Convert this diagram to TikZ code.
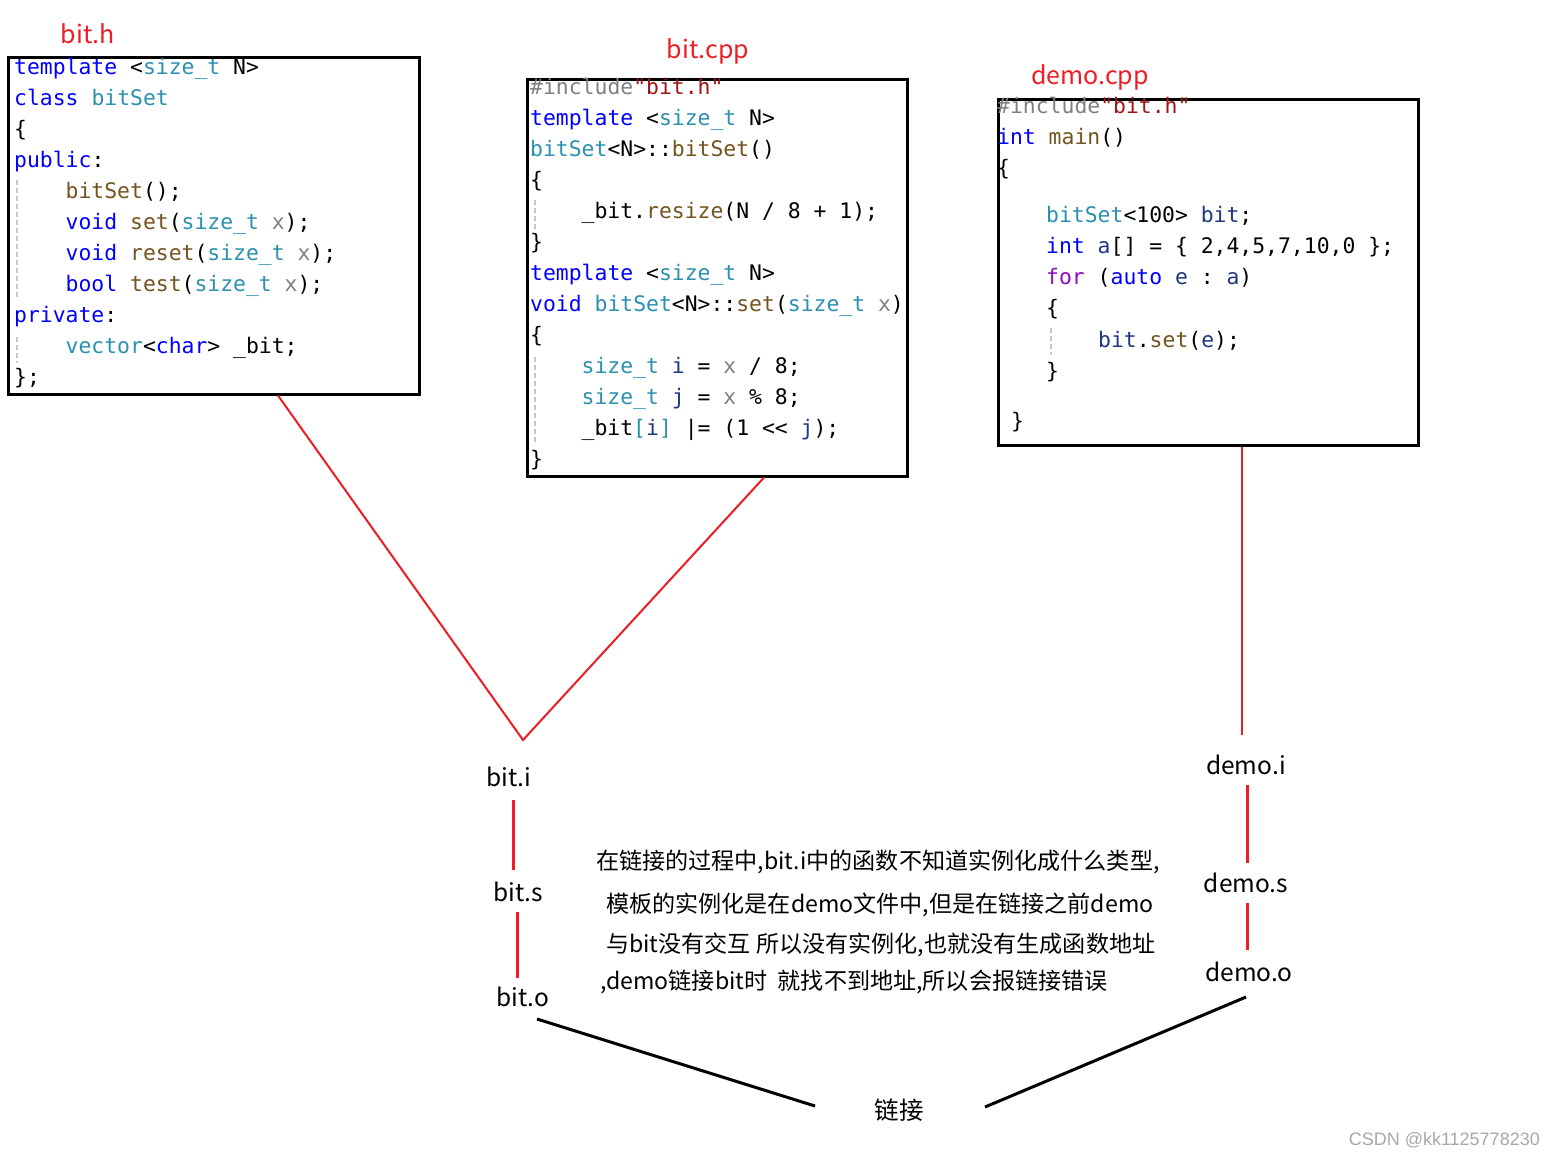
\documentclass[tikz,border=0pt]{standalone}
\usepackage{fontspec}
\setmainfont{Noto Sans CJK SC}
\setmonofont{DejaVu Sans Mono}
\newfontfamily\wmfont{Liberation Sans}
\usetikzlibrary{calc}
\definecolor{ckwcol}{HTML}{0000FF}
\definecolor{ctycol}{HTML}{2B91AF}
\definecolor{cfncol}{HTML}{74531F}
\definecolor{cpmcol}{HTML}{808080}
\definecolor{cstcol}{HTML}{A31515}
\definecolor{clvcol}{HTML}{1F377F}
\definecolor{cctlcol}{HTML}{8F08C4}
\definecolor{lred}{HTML}{EE1C25}
\definecolor{wmgray}{HTML}{A8A8A8}
\newcommand\ckw[1]{\textcolor{ckwcol}{#1}}
\newcommand\cty[1]{\textcolor{ctycol}{#1}}
\newcommand\cfn[1]{\textcolor{cfncol}{#1}}
\newcommand\cpm[1]{\textcolor{cpmcol}{#1}}
\newcommand\cst[1]{\textcolor{cstcol}{#1}}
\newcommand\clv[1]{\textcolor{clvcol}{#1}}
\newcommand\cctl[1]{\textcolor{cctlcol}{#1}}
\newcommand\codef{\ttfamily\fontsize{21.4}{21.4}\selectfont}
\tikzset{
  codebox/.style={draw=black, line width=3pt, inner sep=0pt},
  codeln/.style={anchor=base west, inner sep=0pt, font=\codef},
  redlab/.style={text=lred, font=\fontsize{25}{25}\selectfont, inner sep=0pt},
  lab/.style={text=black, font=\fontsize{24.5}{24.5}\selectfont, inner sep=0pt},
  para/.style={anchor=base west, inner sep=0pt, font=\fontsize{23.1}{23.1}\selectfont},
  redline/.style={draw=lred, line width=2pt},
  redthick/.style={draw=lred, line width=3pt},
  blkline/.style={draw=black, line width=3pt},
  guide/.style={draw=black!22, line width=1.2pt, dash pattern=on 5pt off 3pt},
}
\begin{document}
\begin{tikzpicture}[x=1pt, y=-1pt]
\useasboundingbox[fill=white] (0,0) rectangle (1555,1157);

% ---------- bit.h ----------
\node[redlab] (lbith) at (88,34) {bit.h};
\node[codebox, minimum width=411pt, minimum height=337pt] (bith) at (213.5,225.5) {};
\draw[guide] (17,180) -- (17,297);
\draw[guide] (17,337) -- (17,363);
\node[codeln] (h1) at (14,74) {\ckw{template} <\cty{size\_t} N>};
\node[codeln] (h2) at (14,105) {\ckw{class} \cty{bitSet}};
\node[codeln] (h3) at (14,136) {\{};
\node[codeln] (h4) at (14,167) {\ckw{public}:};
\node[codeln] (h5) at (65.5,198) {\cfn{bitSet}();};
\node[codeln] (h6) at (65.5,229) {\ckw{void} \cfn{set}(\cty{size\_t} \cpm{x});};
\node[codeln] (h7) at (65.5,260) {\ckw{void} \cfn{reset}(\cty{size\_t} \cpm{x});};
\node[codeln] (h8) at (65.5,291) {\ckw{bool} \cfn{test}(\cty{size\_t} \cpm{x});};
\node[codeln] (h9) at (14,322) {\ckw{private}:};
\node[codeln] (h10) at (65.5,353) {\cty{vector}<\ckw{char}> \_bit;};
\node[codeln] (h11) at (14,384) {\};};

% ---------- bit.cpp ----------
\node[redlab] (lbitcpp) at (708,51) {bit.cpp};
\node[codebox, minimum width=380pt, minimum height=397pt] (bitcpp) at (717,277.5) {};
\draw[guide] (535,200) -- (535,230);
\draw[guide] (535,357) -- (535,443);
\node[codeln] (c1) at (530,94) {\cpm{\#include}\cst{"bit.h"}};
\node[codeln] (c2) at (530,125) {\ckw{template} <\cty{size\_t} N>};
\node[codeln] (c3) at (530,156) {\cty{bitSet}<N>::\cfn{bitSet}()};
\node[codeln] (c4) at (530,187) {\{};
\node[codeln] (c5) at (581.5,218) {\_bit.\cfn{resize}(N / 8 + 1);};
\node[codeln] (c6) at (530,249) {\}};
\node[codeln] (c7) at (530,280) {\ckw{template} <\cty{size\_t} N>};
\node[codeln] (c8) at (530,311) {\ckw{void} \cty{bitSet}<N>::\cfn{set}(\cty{size\_t} \cpm{x})};
\node[codeln] (c9) at (530,342) {\{};
\node[codeln] (c10) at (581.5,373) {\cty{size\_t} \clv{i} = \cpm{x} / 8;};
\node[codeln] (c11) at (581.5,404) {\cty{size\_t} \clv{j} = \cpm{x} \% 8;};
\node[codeln] (c12) at (581.5,435) {\_bit\cty{[}\clv{i}\cty{]} |= (1 <\kern0pt< \clv{j});};
\node[codeln] (c13) at (530,466) {\}};

% ---------- demo.cpp ----------
\node[redlab] (ldemocpp) at (1090,77) {demo.cpp};
\node[codebox, minimum width=420pt, minimum height=346pt] (democpp) at (1208,272) {};
\draw[guide] (1051,328) -- (1051,355);
\node[codeln] (d1) at (997,113) {\cpm{\#include}\cst{"bit.h"}};
\node[codeln] (d2) at (997,144) {\ckw{int} \cfn{main}()};
\node[codeln] (d3) at (997,175) {\{};
\node[codeln] (d4) at (1046,222) {\cty{bitSet}<100> \clv{bit};};
\node[codeln] (d5) at (1046,253) {\ckw{int} \clv{a}[] = \{ 2,4,5,7,10,0 \};};
\node[codeln] (d6) at (1046,284) {\cctl{for} (\ckw{auto} \clv{e} : \clv{a})};
\node[codeln] (d7) at (1046,315) {\{};
\node[codeln] (d8) at (1098,347) {\clv{bit}.\cfn{set}(\clv{e});};
\node[codeln] (d9) at (1046,378) {\}};
\node[codeln] (d10) at (1011,428) {\}};

% ---------- stage labels ----------
\node[lab] (biti) at (509,777) {bit.i};
\node[lab] (bits) at (518,892) {bit.s};
\node[lab] (bito) at (523,997) {bit.o};
\node[lab] (demoi) at (1246,765) {demo.i};
\node[lab] (demos) at (1246,883) {demo.s};
\node[lab] (demoo) at (1249,972) {demo.o};
\node[lab] (link) at (899,1110) {链接};

% ---------- explanation ----------
\node[para] (p1) at (596,869) {在链接的过程中,bit.i中的函数不知道实例化成什么类型,};
\node[para] (p2) at (606,912) {模板的实例化是在demo文件中,但是在链接之前demo};
\node[para] (p3) at (606,952) {与bit没有交互 所以没有实例化,也就没有生成函数地址};
\node[para] (p4) at (600,989) {,demo链接bit时\ \ 就找不到地址,所以会报链接错误};

% ---------- connectors ----------
\coordinate (vtx) at (523,740);
\draw[redline] ($(bith.south)+(64.5,0)$) -- (vtx) -- ($(bitcpp.south)+(47,0)$);
\draw[redline] ($(democpp.south)+(34,0)$) -- ($(demoi.center)+(-4,-30)$);
\draw[redthick] ($(biti.center)+(4,23)$) -- ($(bits.center)+(-5,-22)$);
\draw[redthick] ($(bits.center)+(-1,20)$) -- ($(bito.center)+(-6,-19)$);
\draw[redthick] ($(demoi.center)+(1,20)$) -- ($(demos.center)+(1,-20)$);
\draw[redthick] ($(demos.center)+(1,20)$) -- ($(demoo.center)+(-2,-22)$);
\draw[blkline] ($(bito.center)+(14,22)$) -- ($(link.center)+(-84,-4)$);
\draw[blkline] ($(link.center)+(86,-3)$) -- ($(demoo.center)+(-3,25)$);

% ---------- watermark ----------
\node[anchor=east, inner sep=0pt, text=wmgray, font=\wmfont\fontsize{18}{18}\selectfont] (wm) at (1540,1140) {CSDN @kk1125778230};
\end{tikzpicture}
\end{document}
